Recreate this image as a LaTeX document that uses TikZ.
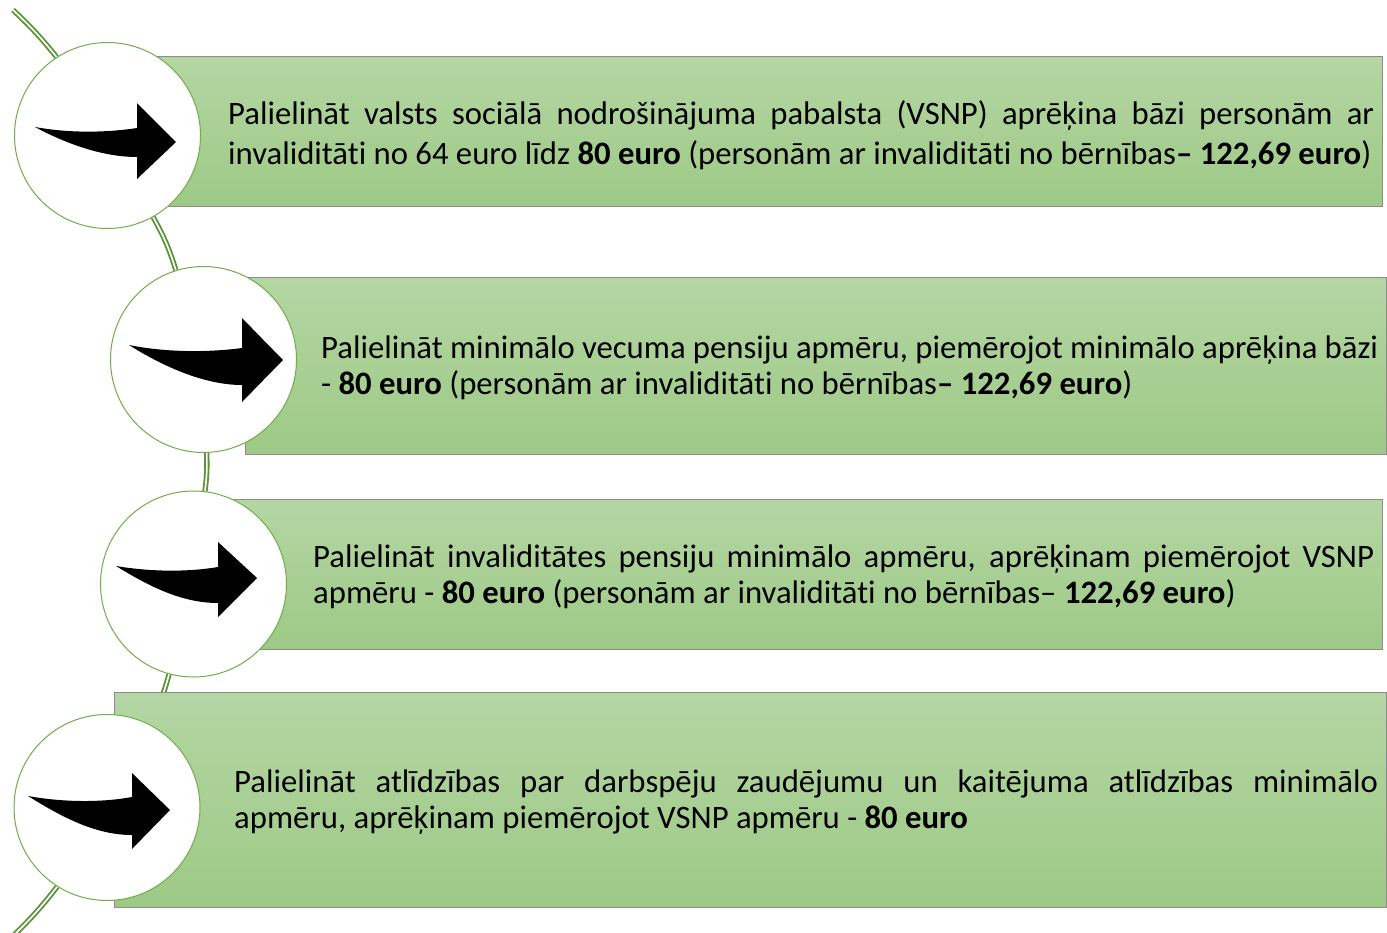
\documentclass[tikz,border=0pt]{standalone}
\usepackage{fontspec}
\setmainfont{Carlito}[Ligatures={NoCommon}]
\usetikzlibrary{backgrounds}
\definecolor{spine}{RGB}{88,145,52}
\definecolor{ring}{RGB}{112,173,71}
\definecolor{boxtop}{RGB}{181,214,164}
\definecolor{boxbot}{RGB}{157,201,133}
\definecolor{boxline}{RGB}{140,140,140}
\begin{document}
\begin{tikzpicture}[x=1pt,y=-1pt,
  disc/.style={circle, draw=ring, line width=1pt, fill=white, minimum size=186pt, inner sep=0pt},
  panel/.style={rectangle, draw=boxline, line width=0.8pt, top color=boxtop, bottom color=boxbot, inner sep=0pt, anchor=north west},
  txt/.style={anchor=west, inner sep=0pt, align=justify, font=\fontsize{32.7}{36}\selectfont},
  spineline/.style={draw=spine, line width=1.8pt, double=white, double distance=1.7pt},
  swoosh/.style={fill=black}]
\useasboundingbox (0,0) rectangle (1387,932);
\hyphenpenalty=10000
% circles
\node[disc] (c1) at (107.5,135.5) {};
\node[disc] (c2) at (203.5,359.5) {};
\node[disc] (c3) at (193.5,584) {};
\node[disc] (c4) at (107,807.5) {};
\coordinate (st) at (13,10);
\coordinate (en) at (13,936);
\begin{scope}[on background layer]
  \draw[spineline] (st) to[bend left=4] (c1);
  \draw[spineline] (c1) to[bend left=6] (c2);
  \draw[spineline] (c2) to[bend left=4.5] (c3);
  \draw[spineline] (c3) to[bend left=6] (c4);
  \draw[spineline] (c4) to[bend left=4] (en);
  \node[panel, minimum width=1227pt, minimum height=150pt] (b1) at (155,56) {};
  \node[panel, minimum width=1141pt, minimum height=177pt] (b2) at (245,277) {};
  \node[panel, minimum width=1150pt, minimum height=150pt] (b3) at (232,499) {};
  \node[panel, minimum width=1272pt, minimum height=215pt] (b4) at (114,692) {};
\end{scope}
% texts
\node[txt, text width=1146pt, font=\fontsize{32.7}{40}\selectfont] (t1) at (228,135) {Palielināt valsts sociālā nodrošinājuma pabalsta (VSNP) aprēķina bāzi personām ar\linebreak invaliditāti no 64 euro līdz \textbf{80 euro} (personām ar invaliditāti no bērnības\textbf{– 122,69 euro})};
\node[txt, text width=1057pt] (t2) at (321,367.5) {Palielināt minimālo vecuma pensiju apmēru, piemērojot minimālo aprēķina bāzi\linebreak - \textbf{80 euro} (personām ar invaliditāti no bērnības\textbf{– 122,69 euro})};
\node[txt, text width=1061pt] (t3) at (313,576.5) {Palielināt invaliditātes pensiju minimālo apmēru, aprēķinam piemērojot VSNP\linebreak apmēru - \textbf{80 euro} (personām ar invaliditāti no bērnības– \textbf{122,69 euro})};
\node[txt, text width=1144pt] (t4) at (234,802) {Palielināt atlīdzības par darbspēju zaudējumu un kaitējuma atlīdzības minimālo\linebreak apmēru, aprēķinam piemērojot VSNP apmēru - \textbf{80 euro}};
% arrows
\begin{scope}[shift={(c1.center)}]
  \fill[swoosh] (-72.5,-8.5) .. controls (-37,-2) and (0,-3) .. (29.5,-7.5) -- (29.5,-32.5) -- (68.5,6.5) -- (29.5,43.5) -- (29.5,21.5) .. controls (-5,21.5) and (-42,8) .. cycle;
\end{scope}
\begin{scope}[shift={(c2.center)}]
  \fill[swoosh] (-74.5,-14.5) .. controls (-38,-7) and (5,-7) .. (38.5,-11.5) -- (38.5,-41.5) -- (79.5,0.5) -- (38.5,42.5) -- (38.5,25.5) .. controls (0,25.5) and (-42,6) .. cycle;
\end{scope}
\begin{scope}[shift={(c3.center)}]
  \fill[swoosh] (-77.5,-18) .. controls (-42,-12) and (-5,-12) .. (24.5,-17) -- (24.5,-42) -- (63.5,-6) -- (24.5,33) -- (24.5,19) .. controls (-12,19) and (-45,2) .. cycle;
\end{scope}
\begin{scope}[shift={(c4.center)}]
  \fill[swoosh] (-79,-11.5) .. controls (-43,-5) and (-5,-5) .. (25,-10.5) -- (25,-34.5) -- (63,2.5) -- (25,41.5) -- (25,27.5) .. controls (-12,27.5) and (-46,9) .. cycle;
\end{scope}
\end{tikzpicture}
\end{document}
